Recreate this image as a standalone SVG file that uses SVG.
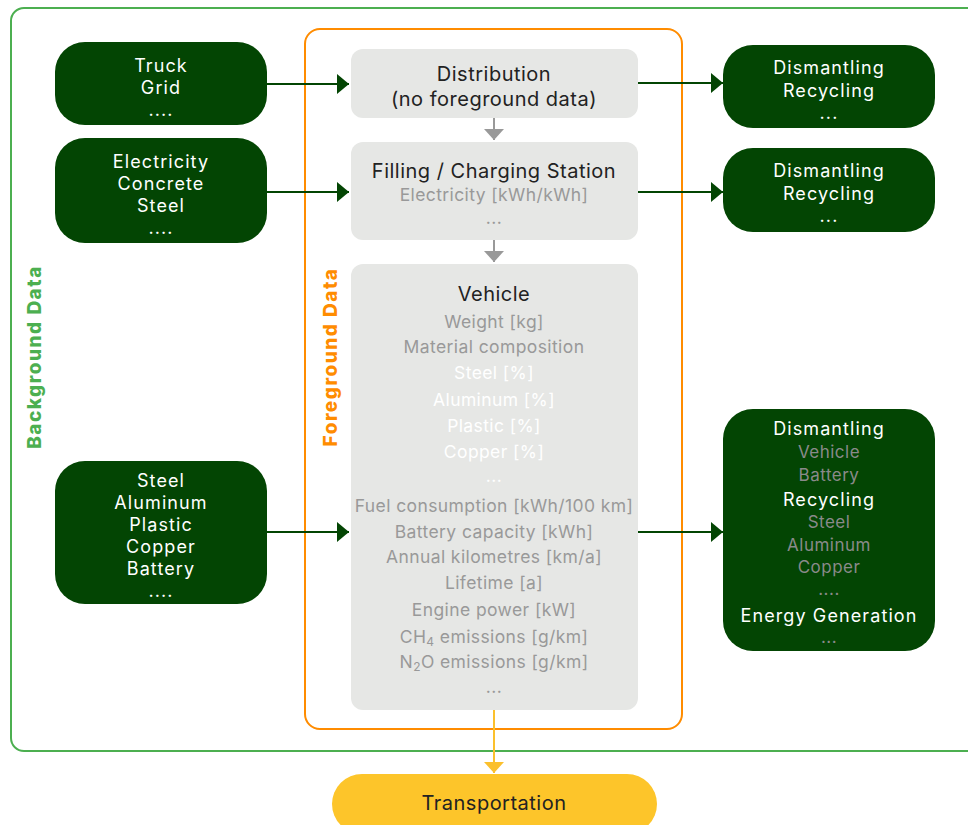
<svg xmlns="http://www.w3.org/2000/svg" width="968" height="825" viewBox="0 0 968 825">
<defs>
<style>
text{font-family:Inter,"Open Sans","Liberation Sans",sans-serif;text-anchor:middle}
.dk{fill:#034503}
.gb{fill:#e6e7e5}
.w{fill:#ffffff;font-size:18px;letter-spacing:1.1px}
.t{fill:#222222;font-size:20px;letter-spacing:0.5px}
.g{fill:#999999;font-size:17.5px;letter-spacing:0.4px}
.gw{fill:#ffffff;font-size:17.5px;letter-spacing:0.4px}
.gd{fill:#8a8a8a;font-size:17px;letter-spacing:0.5px}
.vl{font-weight:800;font-size:19px;letter-spacing:1.5px}
.lnk{stroke:#034503;stroke-width:2;fill:none}
.lnkg{stroke:#999999;stroke-width:2;fill:none}
.lnky{stroke:#fbc02d;stroke-width:2;fill:none}
</style>
<marker id="ag" viewBox="0 0 12 20" refX="12" refY="10" markerWidth="12" markerHeight="20" markerUnits="userSpaceOnUse" orient="auto"><path d="M0,0 L12,10 L0,20 Z" fill="#034503"/></marker>
<marker id="agr" viewBox="0 0 20 11" refX="10" refY="11" markerWidth="20" markerHeight="11" markerUnits="userSpaceOnUse" orient="0"><path d="M0,0 L20,0 L10,11 Z" fill="#999999"/></marker>
<marker id="ay" viewBox="0 0 20 11" refX="10" refY="11" markerWidth="20" markerHeight="11" markerUnits="userSpaceOnUse" orient="0"><path d="M0,0 L20,0 L10,11 Z" fill="#fbc02d"/></marker>
</defs>
<rect width="968" height="825" fill="#ffffff"/>
<g id="background-frame">
<rect x="11" y="8" width="975" height="743" rx="13" fill="none" stroke="#4caf50" stroke-width="2"/>
<text class="vl" transform="translate(41,357) rotate(-90)" style="fill:#4caf50">Background Data</text>
</g>
<g id="foreground-frame">
<rect x="305" y="29" width="377" height="700" rx="15" fill="none" stroke="#ff8c00" stroke-width="2"/>
<text class="vl" transform="translate(337,357) rotate(-90)" style="fill:#ff8c00">Foreground Data</text>
</g>
<g id="connectors">
<path class="lnk" d="M267,84 H349" marker-end="url(#ag)"/>
<path class="lnk" d="M267,192 H349" marker-end="url(#ag)"/>
<path class="lnk" d="M267,532 H349" marker-end="url(#ag)"/>
<path class="lnk" d="M638,83 H723" marker-end="url(#ag)"/>
<path class="lnk" d="M638,192 H723" marker-end="url(#ag)"/>
<path class="lnk" d="M638,532 H723" marker-end="url(#ag)"/>
<path class="lnkg" d="M494,118 V140" marker-end="url(#agr)"/>
<path class="lnkg" d="M494,240 V262" marker-end="url(#agr)"/>
<path class="lnky" d="M494,710 V773" marker-end="url(#ay)"/>
</g>
<g id="bg-truck">
<rect class="dk" x="55" y="42" width="212" height="83" rx="30"/>
<text class="w" x="161" y="72">Truck</text>
<text class="w" x="161" y="94">Grid</text>
<text class="w" x="161" y="116">....</text>
</g>
<g id="bg-electricity">
<rect class="dk" x="55" y="138" width="212" height="105" rx="30"/>
<text class="w" x="161" y="168">Electricity</text>
<text class="w" x="161" y="190">Concrete</text>
<text class="w" x="161" y="212">Steel</text>
<text class="w" x="161" y="234">....</text>
</g>
<g id="bg-materials">
<rect class="dk" x="55" y="461" width="212" height="143" rx="30"/>
<text class="w" x="161" y="487">Steel</text>
<text class="w" x="161" y="509">Aluminum</text>
<text class="w" x="161" y="531">Plastic</text>
<text class="w" x="161" y="553">Copper</text>
<text class="w" x="161" y="575">Battery</text>
<text class="w" x="161" y="597">....</text>
</g>
<g id="fg-distribution">
<rect class="gb" x="351" y="49" width="287" height="69" rx="12"/>
<text class="t" x="494" y="81">Distribution</text>
<text class="t" x="494" y="106">(no foreground data)</text>
</g>
<g id="fg-filling">
<rect class="gb" x="351" y="142" width="287" height="98" rx="12"/>
<text class="t" x="494" y="178">Filling / Charging Station</text>
<text class="g" x="494" y="201">Electricity [kWh/kWh]</text>
<text class="g" x="494" y="224">...</text>
</g>
<g id="fg-vehicle">
<rect class="gb" x="351" y="264" width="287" height="446" rx="12"/>
<text class="t" x="494" y="301">Vehicle</text>
<text class="g" x="494" y="328">Weight [kg]</text>
<text class="g" x="494" y="353">Material composition</text>
<text class="gw" x="494" y="379">Steel [%]</text>
<text class="gw" x="494" y="406">Aluminum [%]</text>
<text class="gw" x="494" y="432">Plastic [%]</text>
<text class="gw" x="494" y="458">Copper [%]</text>
<text class="gw" x="494" y="482">...</text>
<text class="g" x="494" y="512">Fuel consumption [kWh/100 km]</text>
<text class="g" x="494" y="538">Battery capacity [kWh]</text>
<text class="g" x="494" y="563">Annual kilometres [km/a]</text>
<text class="g" x="494" y="589">Lifetime [a]</text>
<text class="g" x="494" y="616">Engine power [kW]</text>
<text class="g" x="494" y="643">CH<tspan font-size="12" dy="3">4</tspan><tspan dy="-3"> emissions [g/km]</tspan></text>
<text class="g" x="494" y="668">N<tspan font-size="12" dy="3">2</tspan><tspan dy="-3">O emissions [g/km]</tspan></text>
<text class="g" x="494" y="693">...</text>
</g>
<g id="eol-distribution">
<rect class="dk" x="723" y="45" width="212" height="83" rx="30"/>
<text class="w" x="829" y="74">Dismantling</text>
<text class="w" x="829" y="96.5">Recycling</text>
<text class="w" x="829" y="119">...</text>
</g>
<g id="eol-filling">
<rect class="dk" x="723" y="148" width="212" height="84" rx="30"/>
<text class="w" x="829" y="177">Dismantling</text>
<text class="w" x="829" y="199.5">Recycling</text>
<text class="w" x="829" y="222">...</text>
</g>
<g id="eol-vehicle">
<rect class="dk" x="723" y="409" width="212" height="242" rx="30"/>
<text class="w" x="829" y="435">Dismantling</text>
<text class="gd" x="829" y="458">Vehicle</text>
<text class="gd" x="829" y="481">Battery</text>
<text class="w" x="829" y="506">Recycling</text>
<text class="gd" x="829" y="528">Steel</text>
<text class="gd" x="829" y="551">Aluminum</text>
<text class="gd" x="829" y="573">Copper</text>
<text class="gd" x="829" y="595">....</text>
<text class="w" x="829" y="622">Energy Generation</text>
<text class="gd" x="829" y="643">...</text>
</g>
<g id="transportation">
<rect x="332" y="774" width="325" height="60" rx="30" fill="#fdc52a"/>
<text class="t" x="494" y="810">Transportation</text>
</g>
</svg>
